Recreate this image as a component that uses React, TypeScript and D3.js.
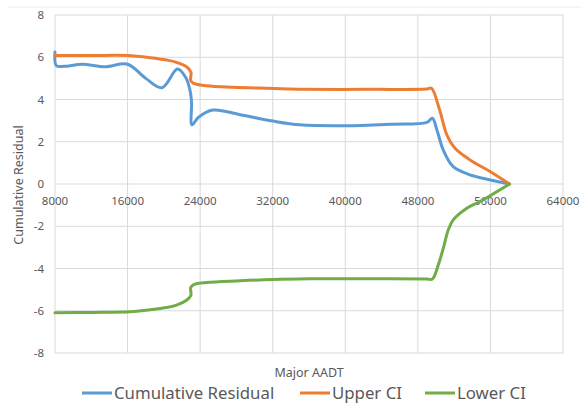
import React from 'react';
import * as d3 from 'd3';

// values: [Major AADT, cumulative value]
const residual: [number, number][] = [
  [8000, 6.25], [8150, 5.6], [9000, 5.57], [11000, 5.67], [13500, 5.55], [16000, 5.67],
  [18000, 5.0], [19800, 4.56], [21500, 5.44], [22400, 5.05], [22900, 4.4], [23050, 3.9],
  [23100, 2.8], [23800, 3.15], [25400, 3.5], [28400, 3.28], [32000, 2.98], [35000, 2.8],
  [40000, 2.76], [45000, 2.83], [49000, 2.92], [49600, 3.11], [50100, 2.56], [50800, 1.61],
  [51900, 0.82], [53750, 0.43], [56000, 0.19], [58100, 0],
];

const upperCI: [number, number][] = [
  [8000, 6.08], [12000, 6.08], [16000, 6.08], [18500, 5.98], [20300, 5.87], [21400, 5.76],
  [22500, 5.55], [22980, 5.3], [22960, 4.9], [23300, 4.76], [24700, 4.65], [27600, 4.58],
  [31300, 4.53], [35000, 4.49], [42000, 4.48], [49000, 4.5], [49500, 4.53], [50400, 3.5],
  [51200, 2.32], [52100, 1.69], [53750, 1.14], [56000, 0.58], [58100, 0],
];

const lowerCI: [number, number][] = [
  [8000, -6.1], [12000, -6.08], [16300, -6.05], [18500, -5.95], [20300, -5.85], [21400, -5.73],
  [22500, -5.5], [22980, -5.28], [22960, -4.9], [23300, -4.76], [24700, -4.66], [28400, -4.58],
  [32000, -4.52], [36000, -4.49], [42000, -4.48], [49000, -4.5], [49600, -4.5], [50250, -3.83],
  [50800, -3.05], [51350, -2.18], [51900, -1.7], [53400, -1.15], [54850, -0.83], [58100, 0],
];

const xTicks = [8000, 16000, 24000, 32000, 40000, 48000, 56000, 64000];
const yTicks = [8, 6, 4, 2, 0, -2, -4, -6, -8];

const seriesNames = ['Cumulative Residual', 'Upper CI', 'Lower CI'];
const seriesColors = ['#5B9BD5', '#ED7D31', '#70AD47'];

const W = 581;
const H = 404;
const font = '"Noto Sans", "Open Sans", sans-serif';

export default function App() {
  const x = d3.scaleLinear().domain([8000, 64000]).range([55, 563]);
  const y = d3.scaleLinear().domain([-8, 8]).range([353, 15]);

  const line = d3
    .line<[number, number]>()
    .x((d) => x(d[0]))
    .y((d) => y(d[1]))
    .curve(d3.curveCatmullRom.alpha(0.5));

  const allSeries = [residual, upperCI, lowerCI];
  const legendX = [82, 300, 425];

  return (
    <svg
      width={W}
      height={H}
      style={{ position: 'absolute', left: 0, top: 0, background: '#fff' }}
      fontFamily={font}
    >
      <line x1={7} x2={W} y1={7} y2={7} stroke="#eeeeee" strokeWidth={1} />

      {/* grid */}
      {yTicks.map((t) => (
        <line key={'gy' + t} x1={x(8000)} x2={x(64000)} y1={y(t)} y2={y(t)} stroke="#d9d9d9" strokeWidth={1} />
      ))}
      {xTicks.map((t) => (
        <line key={'gx' + t} x1={x(t)} x2={x(t)} y1={y(8)} y2={y(-8)} stroke="#d9d9d9" strokeWidth={1} />
      ))}

      {/* y tick labels */}
      {yTicks.map((t) => (
        <text key={'ty' + t} x={44} y={y(t)} dy="0.35em" textAnchor="end" fontSize={11.5} fill="#595959">
          {t}
        </text>
      ))}
      {/* x tick labels sit under the zero line */}
      {xTicks.map((t) => (
        <text key={'tx' + t} x={x(t)} y={y(0) + 17} dy="0.35em" textAnchor="middle" fontSize={11.5} fill="#595959">
          {t}
        </text>
      ))}

      {/* series */}
      {allSeries.map((s, i) => (
        <path key={seriesNames[i]} d={line(s) ?? ''} fill="none" stroke={seriesColors[i]} strokeWidth={3} strokeLinejoin="round" strokeLinecap="round" />
      ))}

      {/* axis titles */}
      <text x={309} y={373} dy="0.35em" textAnchor="middle" fontSize={12.5} fill="#595959">
        Major AADT
      </text>
      <text transform={`translate(19,185) rotate(-90)`} dy="0.35em" textAnchor="middle" fontSize={12.5} fill="#595959">
        Cumulative Residual
      </text>

      {/* legend */}
      {seriesNames.map((n, i) => (
        <g key={'lg' + n} transform={`translate(${legendX[i]},393)`}>
          <line x1={0} x2={30} y1={0} y2={0} stroke={seriesColors[i]} strokeWidth={3} />
          <text x={32} dy="0.35em" fontSize={16.8} fill="#595959">
            {n}
          </text>
        </g>
      ))}
    </svg>
  );
}
